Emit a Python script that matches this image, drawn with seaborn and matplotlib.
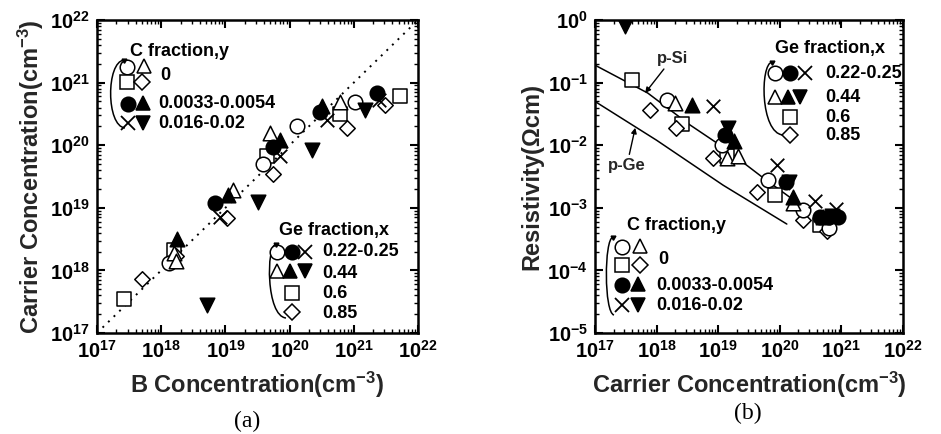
import numpy as np
import pandas as pd
import matplotlib
matplotlib.use("Agg")
import matplotlib.pyplot as plt
import seaborn as sns
from matplotlib.ticker import LogLocator, FuncFormatter, NullFormatter
from matplotlib.transforms import Affine2D
from matplotlib.path import Path
from matplotlib.patches import PathPatch

# ---------------- data: panel (a)  B concentration -> carrier concentration (cm^-3)
a_open_circle_x = [1.3e18, 3.9e19, 1.3e20, 1.05e21]
a_open_circle_y = [1.3e18, 5.1e19, 2.0e20, 4.9e20]
a_filled_circle_x = [6.9e18, 5.6e19, 3.0e20, 2.3e21]
a_filled_circle_y = [1.2e19, 9.5e19, 3.4e20, 6.8e20]
a_cross_x = [8.3e18, 7.1e19, 3.8e20, 2.5e21]
a_cross_y = [7.2e18, 6.6e19, 2.5e20, 5.2e20]
a_open_tri_x = [1.6e18, 1.7e18, 1.3e19, 4.9e19, 6.2e20]
a_open_tri_y = [1.9e18, 1.4e18, 1.9e19, 1.55e20, 4.9e20]
a_filled_tri_x = [1.75e18, 1.1e19, 7.1e19, 3.2e20]
a_filled_tri_y = [3.2e18, 1.6e19, 1.2e20, 4.2e20]
a_filled_down_x = [5.1e18, 3.2e19, 2.2e20, 1.5e21]
a_filled_down_y = [2.8e17, 1.26e19, 8.3e19, 3.6e20]
a_square_x = [2.6e17, 1.6e18, 4.4e19, 6.2e20, 5.2e21]
a_square_y = [3.5e17, 2.1e18, 6.6e19, 3.2e20, 6.0e20]
a_diamond_x = [5.0e17, 1.7e18, 1.05e19, 5.6e19, 7.8e20, 3.1e21]
a_diamond_y = [7.4e17, 1.7e18, 6.8e18, 3.5e19, 1.9e20, 4.4e20]
a_diag_x = [1e17, 1e22]
a_diag_y = [1e17, 1e22]

# ---------------- data: panel (b)  carrier concentration (cm^-3) -> resistivity (Ohm cm)
b_open_circle_x = [1.45e18, 1.15e19, 6.5e19, 2.4e20, 6.2e20]
b_open_circle_y = [5.2e-2, 1.0e-2, 2.75e-3, 9.1e-4, 4.7e-4]
b_filled_circle_x = [1.3e19, 1.25e20, 4.5e20, 6.3e20, 8.9e20]
b_filled_circle_y = [1.45e-2, 2.6e-3, 7.0e-4, 7.0e-4, 7.2e-4]
b_cross_x = [8.3e18, 8.9e19, 3.7e20, 8.3e20]
b_cross_y = [4.2e-2, 4.8e-3, 1.3e-3, 9.5e-4]
b_open_tri_x = [2.0e18, 1.4e19, 2.1e19, 1.65e20]
b_open_tri_y = [4.7e-2, 6.2e-3, 6.6e-3, 1.2e-3]
b_filled_tri_x = [3.7e18, 1.8e19, 1.65e20, 5.0e20]
b_filled_tri_y = [4.4e-2, 1.15e-2, 1.5e-3, 7.0e-4]
b_filled_down_x = [3.1e17, 1.45e19, 1.4e20, 7.0e20]
b_filled_down_y = [8.0e-1, 1.85e-2, 2.6e-3, 7.5e-4]
b_square_x = [4.0e17, 2.6e18, 1.4e19, 8.3e19, 4.5e20]
b_square_y = [1.1e-1, 2.2e-2, 6.6e-3, 1.6e-3, 5.4e-4]
b_diamond_x = [7.8e17, 2.1e18, 8.3e18, 4.2e19, 2.4e20, 5.8e20]
b_diamond_y = [3.6e-2, 1.9e-2, 6.2e-3, 1.8e-3, 6.5e-4, 4.2e-4]
p_si_x = [1e17, 7.2e17, 3.5e18, 1.2e19, 5.4e19, 2.5e20]
p_si_y = [0.19, 6.8e-2, 2.1e-2, 9.3e-3, 3.0e-3, 1.0e-3]
p_ge_x = [1e17, 1.0e18, 1.2e19, 1.3e20]
p_ge_y = [5.0e-2, 1.2e-2, 2.3e-3, 5.5e-4]

# legend texts
c_title = "C fraction,y"
c_labels = ["0", "0.0033-0.0054", "0.016-0.02"]
ge_title = "Ge fraction,x"
ge_labels = ["0.22-0.25", "0.44", "0.6", "0.85"]

# ---------------- style
sns.set_style("ticks")
plt.rcParams["font.family"] = ["Liberation Sans", "DejaVu Sans"]
plt.rcParams["font.weight"] = "bold"
plt.rcParams["mathtext.fontset"] = "custom"
plt.rcParams["mathtext.bf"] = "Liberation Sans:bold"
plt.rcParams["mathtext.rm"] = "Liberation Sans:bold"
plt.rcParams["mathtext.default"] = "bf"

W, H = 941, 434
fig = plt.figure(figsize=(W / 100, H / 100), dpi=100)
fig.patch.set_facecolor("white")
pix = Affine2D().scale(1 / W, -1 / H).translate(0, 1) + fig.transFigure

ax_a = fig.add_axes([97 / W, 1 - 333 / H, 321 / W, 313 / H])
ax_b = fig.add_axes([595 / W, 1 - 333 / H, 308 / W, 313 / H])

K = "black"
MS = {"o": 110, "s": 95, "^": 110, "v": 110, "D": 62, "x": 95}
styles = {
    "open_circle": dict(marker="o", fc="white", ec=K),
    "filled_circle": dict(marker="o", fc=K, ec=K),
    "cross": dict(marker="x", fc=K, ec=K),
    "open_tri": dict(marker="^", fc="white", ec=K),
    "filled_tri": dict(marker="^", fc=K, ec=K),
    "filled_down": dict(marker="v", fc=K, ec=K),
    "square": dict(marker="s", fc="white", ec=K),
    "diamond": dict(marker="D", fc="white", ec=K),
}
order = ["square", "diamond", "open_circle", "open_tri", "cross",
         "filled_circle", "filled_tri", "filled_down"]

data_a = {
    "open_circle": (a_open_circle_x, a_open_circle_y),
    "filled_circle": (a_filled_circle_x, a_filled_circle_y),
    "cross": (a_cross_x, a_cross_y),
    "open_tri": (a_open_tri_x, a_open_tri_y),
    "filled_tri": (a_filled_tri_x, a_filled_tri_y),
    "filled_down": (a_filled_down_x, a_filled_down_y),
    "square": (a_square_x, a_square_y),
    "diamond": (a_diamond_x, a_diamond_y),
}
data_b = {
    "open_circle": (b_open_circle_x, b_open_circle_y),
    "filled_circle": (b_filled_circle_x, b_filled_circle_y),
    "cross": (b_cross_x, b_cross_y),
    "open_tri": (b_open_tri_x, b_open_tri_y),
    "filled_tri": (b_filled_tri_x, b_filled_tri_y),
    "filled_down": (b_filled_down_x, b_filled_down_y),
    "square": (b_square_x, b_square_y),
    "diamond": (b_diamond_x, b_diamond_y),
}


def fmt(v, p):
    return r"$\mathbf{10^{%d}}$" % int(round(np.log10(v)))


def setup(ax, ylim):
    ax.set_xscale("log")
    ax.set_yscale("log")
    ax.set_xlim(1e17, 1e22)
    ax.set_ylim(*ylim)
    ax.xaxis.set_major_locator(LogLocator(base=10, numticks=20))
    ax.yaxis.set_major_locator(LogLocator(base=10, numticks=20))
    ax.xaxis.set_minor_locator(LogLocator(base=10, subs=np.arange(2, 10), numticks=20))
    ax.yaxis.set_minor_locator(LogLocator(base=10, subs=np.arange(2, 10), numticks=20))
    ax.xaxis.set_major_formatter(FuncFormatter(fmt))
    ax.yaxis.set_major_formatter(FuncFormatter(fmt))
    ax.xaxis.set_minor_formatter(NullFormatter())
    ax.yaxis.set_minor_formatter(NullFormatter())
    ax.tick_params(which="both", direction="in", top=True, right=True, colors=K)
    ax.tick_params(which="major", length=6, width=1.5, labelsize=14.5, pad=5)
    ax.tick_params(which="minor", length=3, width=1.0)
    for s in ax.spines.values():
        s.set_linewidth(1.8)
        s.set_color(K)
    ax.set_facecolor("white")


def scatter_all(ax, data):
    for key in order:
        st = styles[key]
        x, y = data[key]
        df = pd.DataFrame({"x": x, "y": y})
        if st["marker"] == "x":
            sns.scatterplot(data=df, x="x", y="y", ax=ax, marker="x", color=K,
                            s=MS["x"], linewidth=1.3, legend=False, zorder=3)
        else:
            sns.scatterplot(data=df, x="x", y="y", ax=ax, marker=st["marker"],
                            facecolor=st["fc"], edgecolor=st["ec"], s=MS[st["marker"]],
                            linewidth=1.1, legend=False, zorder=3)


# ---------------- panel (a)
setup(ax_a, (1e17, 1e22))
sns.lineplot(x=a_diag_x, y=a_diag_y, ax=ax_a, color=K, linestyle=(0, (1, 3)),
             linewidth=1.4, zorder=2)
scatter_all(ax_a, data_a)
ax_a.set_xlabel(r"B Concentration(cm$^{\mathbf{-3}}$)", fontsize=17, fontweight="bold", labelpad=6)
ax_a.set_ylabel(r"Carrier Concentration(cm$^{\mathbf{-3}}$)", fontsize=17, fontweight="bold", labelpad=3)

# ---------------- panel (b)
setup(ax_b, (1e-5, 1e0))
sns.lineplot(x=p_si_x, y=p_si_y, ax=ax_b, color=K, linewidth=1.1, zorder=2)
sns.lineplot(x=p_ge_x, y=p_ge_y, ax=ax_b, color=K, linewidth=1.1, zorder=2)
scatter_all(ax_b, data_b)
ax_b.set_xlabel(r"Carrier Concentration(cm$^{\mathbf{-3}}$)", fontsize=17, fontweight="bold", labelpad=6)
ax_b.set_ylabel("Resistivity(Ωcm)", fontsize=17, fontweight="bold", labelpad=3)
arrow = dict(arrowstyle="-|>", color=K, lw=1.0, mutation_scale=8, shrinkA=0, shrinkB=0)
ax_b.annotate("p-Si", xy=(6.5e17, 6.8e-2), xytext=(1.8e18, 0.245), fontsize=12,
              fontweight="bold", ha="center", va="center", arrowprops=arrow)
ax_b.annotate("p-Ge", xy=(4.5e17, 1.9e-2), xytext=(3.3e17, 4.8e-3), fontsize=12,
              fontweight="bold", ha="center", va="center", arrowprops=arrow)


# ---------------- hand-drawn style legends (pixel positions)
def glyph(key, X, Y, scale=1.0):
    st = styles[key]
    m = st["marker"]
    size = np.sqrt(MS[m] * scale)
    if m == "x":
        fig.add_artist(plt.Line2D([X], [Y], transform=pix, marker="x", markersize=size,
                                  color=K, markeredgewidth=1.3, linestyle="none"))
    else:
        fig.add_artist(plt.Line2D([X], [Y], transform=pix, marker=m, markersize=size,
                                  markerfacecolor=st["fc"], markeredgecolor=K,
                                  markeredgewidth=1.1, linestyle="none"))


def label(s, X, Y, size=13):
    fig.text(X, Y, s, transform=pix, fontsize=size, fontweight="bold",
             ha="left", va="center", color=K)


def bracket(x_top, y_top, x_left, x_bot, y_bot):
    verts = [(x_top, y_top), (x_left - 6, y_top + 2), (x_left - 6, y_bot - 2), (x_bot, y_bot)]
    codes = [Path.MOVETO, Path.CURVE4, Path.CURVE4, Path.CURVE4]
    fig.add_artist(PathPatch(Path(verts, codes), transform=pix, fill=False,
                             edgecolor=K, linewidth=1.1))
    fig.add_artist(plt.Line2D([x_top], [y_top], transform=pix, marker=(3, 0, -60),
                              markersize=4, color=K, linestyle="none"))


# panel (a) C legend
label(c_title, 130, 52)
glyph("open_circle", 127, 67); glyph("open_tri", 144, 66)
glyph("square", 127, 82); glyph("diamond", 142, 82)
glyph("filled_circle", 128, 104); glyph("filled_tri", 143, 103)
glyph("cross", 128, 123); glyph("filled_down", 143, 123)
label(c_labels[0], 160, 76); label(c_labels[1], 158, 104); label(c_labels[2], 158, 124)
bracket(124, 60, 112, 125, 128)

# panel (a) Ge legend
label(ge_title, 279, 230)
glyph("open_circle", 277, 252); glyph("filled_circle", 292, 252); glyph("cross", 305, 252)
glyph("open_tri", 277, 271); glyph("filled_tri", 290, 271); glyph("filled_down", 305, 271)
glyph("square", 292, 293)
glyph("diamond", 292, 312)
for s, yy in zip(ge_labels, [252, 273, 293, 313]):
    label(s, 322, yy)
bracket(276, 244, 272, 286, 318)

# panel (b) Ge legend
label(ge_title, 775, 48)
glyph("open_circle", 775, 73); glyph("filled_circle", 790, 73); glyph("cross", 805, 73)
glyph("open_tri", 775, 97); glyph("filled_tri", 788, 97); glyph("filled_down", 800, 97)
glyph("square", 790, 117)
glyph("diamond", 790, 135)
for s, yy in zip(ge_labels, [73, 97, 117, 135]):
    label(s, 825, yy)
bracket(772, 62, 766, 783, 135)

# panel (b) C legend
label(c_title, 627, 225)
glyph("open_circle", 622, 247); glyph("open_tri", 640, 246)
glyph("square", 622, 265); glyph("diamond", 640, 265)
glyph("filled_circle", 622, 285); glyph("filled_tri", 638, 284)
glyph("cross", 622, 305); glyph("filled_down", 638, 305)
label(c_labels[0], 658, 260); label(c_labels[1], 656, 285); label(c_labels[2], 656, 305)
bracket(613, 237, 610, 614, 315)

# panel captions
fig.text(247, 421, "(a)", transform=pix, fontsize=17, family=["Liberation Serif"],
         fontweight="normal", ha="center", va="center", color=K)
fig.text(748, 413, "(b)", transform=pix, fontsize=17, family=["Liberation Serif"],
         fontweight="normal", ha="center", va="center", color=K)

fig.savefig("out.png", dpi=100, facecolor="white")
